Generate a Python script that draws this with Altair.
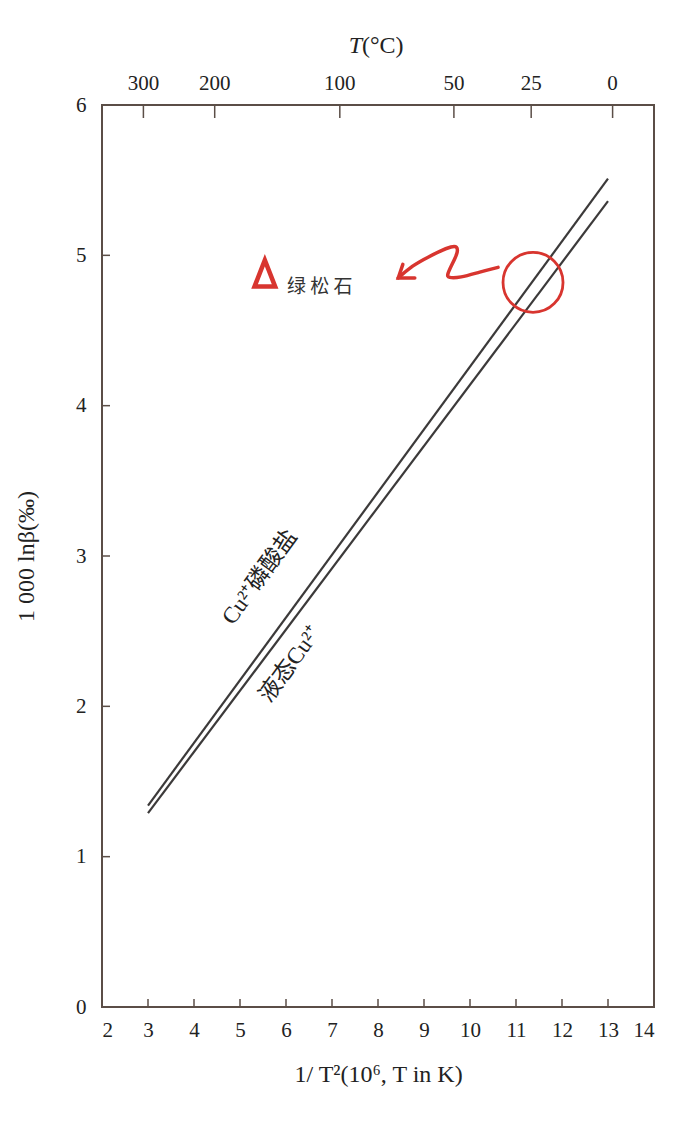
import altair as alt
import pandas as pd

# ---- data ----
x_ticks = [2, 3, 4, 5, 6, 7, 8, 9, 10, 11, 12, 13, 14]
y_ticks = [0, 1, 2, 3, 4, 5, 6]
top_pos = [2.9, 4.45, 7.17, 9.65, 11.33, 13.1]
top_lab = ["300", "200", "100", "50", "25", "0"]

line_x = [3, 13]
phosphate_y = [1.34, 5.51]
aqueous_y = [1.29, 5.36]
series_names = ["Cu²⁺磷酸盐", "液态Cu²⁺"]

label_x = [5.43, 6.09]
label_y = [2.86, 2.28]

turq_x, turq_y = 5.54, 4.88
turq_text_x, turq_text_y = 6.02, 4.79
circle_x, circle_y = 11.37, 4.82

arrow_x = [10.61, 10.22, 9.78, 9.52, 9.50, 9.61, 9.74, 9.72, 9.61, 9.35, 8.98, 8.70, 8.44]
arrow_y = [4.92, 4.89, 4.85, 4.85, 4.87, 4.94, 5.02, 5.06, 5.06, 5.03, 4.97, 4.92, 4.85]
head_x = [8.54, 8.44, 8.80]
head_y = [4.94, 4.85, 4.85]

W, H = 552, 902
FONT = "Liberation Serif"
CJK = "Liberation Serif, Noto Sans CJK SC"
FRAME = "#5b4e47"
RED = "#d8352f"
LINE = "#3c3a3a"

xs = alt.Scale(domain=[2, 14], nice=False, zero=False)
ys = alt.Scale(domain=[0, 6], nice=False, zero=False)

lines_df = pd.DataFrame({
    "x": line_x + line_x,
    "y": phosphate_y + aqueous_y,
    "s": [series_names[0]] * 2 + [series_names[1]] * 2,
})

lines = alt.Chart(lines_df).mark_line(strokeWidth=2.2, color=LINE).encode(
    x=alt.X("x:Q", scale=xs, axis=alt.Axis(
        values=x_ticks, format="d", ticks=False, domain=False, grid=False,
        labelFont=FONT, labelFontSize=21, labelColor="#222", labelPadding=12,
        title="1/ T²(10⁶,  T  in  K)", titleFont=FONT, titleFontSize=24,
        titleFontWeight="normal", titleColor="#222", titlePadding=22)),
    y=alt.Y("y:Q", scale=ys, axis=alt.Axis(
        values=y_ticks, format="d", ticks=False, domain=False, grid=False,
        labelFont=FONT, labelFontSize=21, labelColor="#222", labelPadding=16,
        title="1 000 lnβ(‰)", titleFont=FONT, titleFontSize=24,
        titleFontWeight="normal", titleColor="#222", titlePadding=37)),
    detail="s:N",
)

# inward ticks
bt_df = pd.DataFrame({"x": x_ticks[1:-1]})
bottom_ticks = alt.Chart(bt_df).mark_rule(color=FRAME, strokeWidth=1.5).encode(
    x=alt.X("x:Q", scale=xs), y=alt.value(H), y2=alt.value(H - 8))
lt_df = pd.DataFrame({"y": y_ticks[1:-1]})
left_ticks = alt.Chart(lt_df).mark_rule(color=FRAME, strokeWidth=1.5).encode(
    y=alt.Y("y:Q", scale=ys), x=alt.value(0), x2=alt.value(8))
top_df = pd.DataFrame({"x": top_pos, "t": top_lab})
top_ticks = alt.Chart(top_df).mark_rule(color=FRAME, strokeWidth=1.5).encode(
    x=alt.X("x:Q", scale=xs), y=alt.value(0), y2=alt.value(13))
top_labels = alt.Chart(top_df).mark_text(
    font=FONT, fontSize=21, color="#222", baseline="middle").encode(
    x=alt.X("x:Q", scale=xs), y=alt.value(-21), text="t:N")

title_df = pd.DataFrame({"a": [0]})
top_title_T = alt.Chart(title_df).mark_text(
    font=FONT, fontSize=24, fontStyle="italic", color="#222",
    align="right", baseline="middle", text="T").encode(
    x=alt.value(260), y=alt.value(-59))
top_title_C = alt.Chart(title_df).mark_text(
    font=FONT, fontSize=24, color="#222",
    align="left", baseline="middle", text="(°C)").encode(
    x=alt.value(260), y=alt.value(-59))

lab_df = pd.DataFrame({"x": label_x, "y": label_y, "t": series_names})
line_labels = alt.Chart(lab_df).mark_text(
    font=CJK, fontSize=23, color="#222", angle=306, baseline="middle",
    align="center").encode(
    x=alt.X("x:Q", scale=xs), y=alt.Y("y:Q", scale=ys), text="t:N")

# annotations
tri_df = pd.DataFrame({"x": [turq_x], "y": [turq_y]})
triangle = alt.Chart(tri_df).mark_point(
    shape="M0,-1L-0.78,1L0.78,1Z", size=700, filled=False,
    stroke=RED, strokeWidth=4.5, opacity=1).encode(
    x=alt.X("x:Q", scale=xs), y=alt.Y("y:Q", scale=ys))
tt_df = pd.DataFrame({"x": [turq_text_x], "y": [turq_text_y], "t": ["绿 松 石"]})
turq_text = alt.Chart(tt_df).mark_text(
    font="Noto Sans CJK SC", fontSize=19, color="#333", align="left",
    baseline="middle").encode(
    x=alt.X("x:Q", scale=xs), y=alt.Y("y:Q", scale=ys), text="t:N")

c_df = pd.DataFrame({"x": [circle_x], "y": [circle_y]})
circle = alt.Chart(c_df).mark_point(
    shape="circle", size=3600, filled=False, stroke=RED, strokeWidth=2.8,
    opacity=1).encode(x=alt.X("x:Q", scale=xs), y=alt.Y("y:Q", scale=ys))

arr_df = pd.DataFrame({"x": arrow_x, "y": arrow_y, "o": list(range(len(arrow_x)))})
arrow = alt.Chart(arr_df).mark_line(
    color=RED, strokeWidth=3.5, interpolate="basis", strokeCap="round").encode(
    x=alt.X("x:Q", scale=xs), y=alt.Y("y:Q", scale=ys), order="o:Q")
head_df = pd.DataFrame({"x": head_x, "y": head_y, "o": [0, 1, 2]})
head = alt.Chart(head_df).mark_line(
    color=RED, strokeWidth=3.5, strokeCap="round", strokeJoin="miter").encode(
    x=alt.X("x:Q", scale=xs), y=alt.Y("y:Q", scale=ys), order="o:Q")

chart = alt.layer(
    lines, bottom_ticks, left_ticks, top_ticks, top_labels, top_title_T,
    top_title_C, line_labels, triangle, turq_text, circle, arrow, head
).properties(
    width=W, height=H,
    autosize=alt.AutoSizeParams(type="none"),
    padding={"left": 94, "top": 97, "right": 38, "bottom": 115},
    background="white",
).configure_view(stroke=FRAME, strokeWidth=2)

chart.save("out.html", embed_options={"renderer": "svg", "actions": False})
